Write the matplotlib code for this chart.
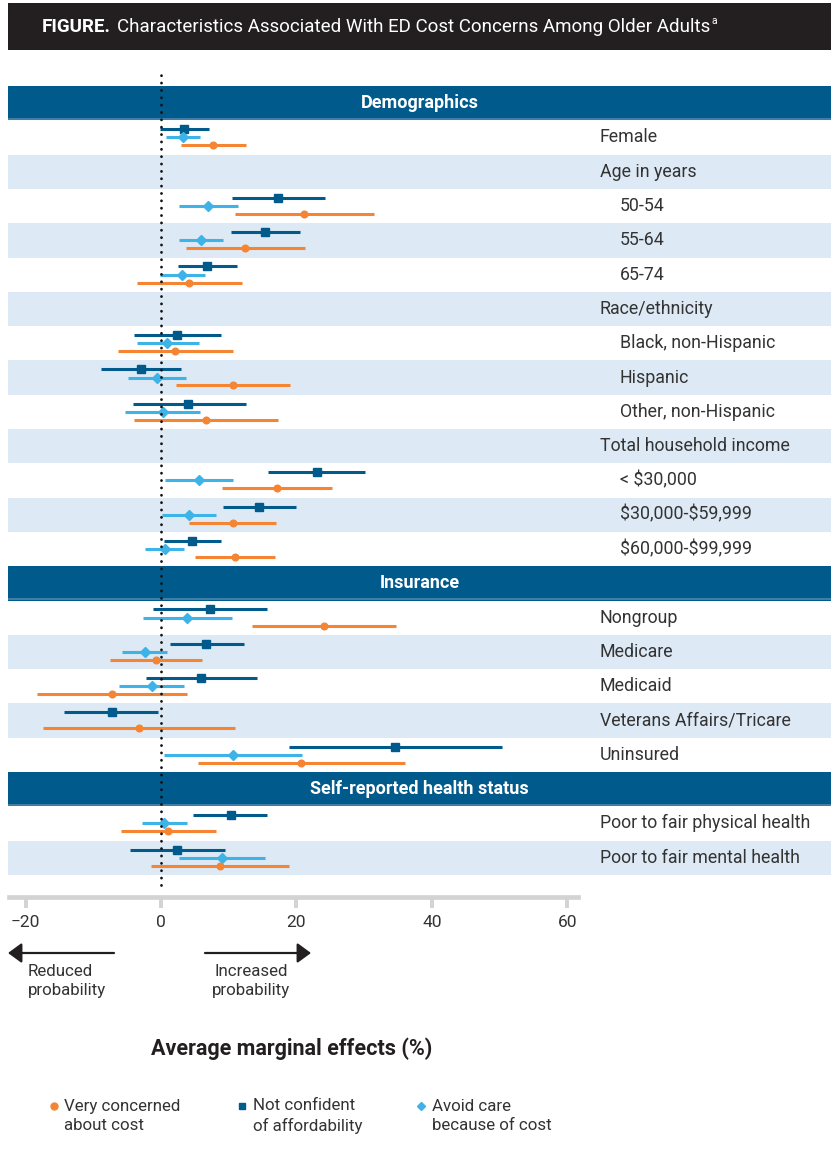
import numpy as np
import matplotlib
matplotlib.use("Agg")
import matplotlib.pyplot as plt
from matplotlib.patches import Rectangle
from matplotlib.transforms import blended_transform_factory

plt.rcParams['font.family'] = ['Roboto', 'DejaVu Sans']

NAVY = '#005a8c'
CYAN = '#3db3e7'
ORANGE = '#f58532'
SHADE = '#dde9f5'
TEXT = '#333333'
DARK = '#231f20'

# rows from top to bottom; kind: h = section header, g = group label,
# m = item, s = indented sub item
row_labels = ["Demographics", "Female", "Age in years", "50-54", "55-64", "65-74",
              "Race/ethnicity", "Black, non-Hispanic", "Hispanic", "Other, non-Hispanic",
              "Total household income", "< $30,000", "$30,000-$59,999", "$60,000-$99,999",
              "Insurance", "Nongroup", "Medicare", "Medicaid", "Veterans Affairs/Tricare",
              "Uninsured", "Self-reported health status",
              "Poor to fair physical health", "Poor to fair mental health"]
row_kinds = "hmgsssgsssgssshmmmmmhmm"

# values for the rows of kind m / s, in order (average marginal effects, %)
concern = [7.7, 21.1, 12.4, 4.2, 2.1, 10.6, 6.6, 17.1, 10.6, 10.9,
           24.1, -0.8, -7.3, -3.2, 20.7, 1.1, 8.7]
concern_lo = [2.95, 11.0, 3.7, -3.5, -6.35, 2.2, -4.0, 9.0, 4.1, 5.0,
              13.4, -7.6, -18.3, -17.4, 5.5, -5.9, -1.5]
concern_hi = [12.5, 31.4, 21.2, 12.0, 10.6, 19.0, 17.3, 25.3, 17.0, 16.9,
              34.7, 6.1, 3.8, 11.0, 36.1, 8.1, 18.9]

afford = [3.45, 17.3, 15.4, 6.85, 2.4, -2.9, 4.0, 23.1, 14.5, 4.6,
          7.2, 6.65, 5.9, -7.3, 34.6, 10.3, 2.4]
afford_lo = [-0.15, 10.5, 10.4, 2.55, -4.0, -8.8, -4.2, 15.85, 9.16, 0.5,
             -1.2, 1.4, -2.2, -14.3, 18.95, 4.7, -4.6]
afford_hi = [7.1, 24.2, 20.5, 11.2, 8.9, 2.9, 12.5, 30.2, 19.9, 8.8,
             15.6, 12.2, 14.15, -0.5, 50.4, 15.7, 9.5]

avoid = [3.2, 7.0, 5.9, 3.15, 0.93, -0.64, 0.24, 5.66, 4.1, 0.55,
         3.9, -2.4, -1.4, np.nan, 10.6, 0.43, 9.0]
avoid_lo = [0.7, 2.7, 2.7, -0.1, -3.6, -4.9, -5.3, 0.64, 0.15, -2.3,
            -2.6, -5.8, -6.2, np.nan, 0.43, -2.85, 2.7]
avoid_hi = [5.8, 11.4, 9.2, 6.45, 5.6, 3.65, 5.8, 10.7, 8.1, 3.45,
            10.5, 0.96, 3.4, np.nan, 20.8, 3.8, 15.3]

xticks = [-20, 0, 20, 40, 60]

W, H = 831, 1169
fig = plt.figure(figsize=(W / 100, H / 100), dpi=100)

# main panel, placed in pixel terms
row_h = 34.3
ax = fig.add_axes([8 / W, 1 - 897 / H, 823 / W, (897 - 60) / H])
ax.set_ylim((897 - 103.15) / row_h, (60 - 103.15) / row_h)
ax.set_xlim((8 - 161) / 6.77, (831 - 161) / 6.77)
trans = blended_transform_factory(ax.transAxes, ax.transData)

header_idx = 0
for i, (lab, kind) in enumerate(zip(row_labels, row_kinds)):
    if kind == 'h':
        header_idx = i
        ax.axhspan(i - 0.5, i + 0.5, color=NAVY, lw=0, zorder=1)
        ax.axhline(i + 0.47, color='#4f86ad', lw=1.2, zorder=1)
        ax.text(0.5, i, lab, transform=trans, ha='center', va='center',
                color='white', fontsize=13, fontweight='bold', zorder=2)
        continue
    if (i - header_idx) % 2 == 0:
        ax.axhspan(i - 0.5, i + 0.5, color=SHADE, lw=0, zorder=0)
    xpos = 0.7436 if kind == 's' else 0.7193
    ax.text(xpos, i, lab, transform=trans, ha='left', va='center',
            color=TEXT, fontsize=12.8, parse_math=False, zorder=2)

yy = np.array([i for i, k in enumerate(row_kinds) if k in 'ms'], float)
series = [
    (afford, afford_lo, afford_hi, NAVY, 's', 5.4, -0.24),
    (avoid, avoid_lo, avoid_hi, CYAN, 'D', 4.6, 0.0),
    (concern, concern_lo, concern_hi, ORANGE, 'o', 4.8, 0.23),
]
for vals, lo, hi, col, mk, ms, off in series:
    vals = np.array(vals)
    err = [vals - np.array(lo), np.array(hi) - vals]
    ax.errorbar(vals, yy + off, xerr=err, fmt=mk, color=col, ms=ms,
                elinewidth=2.2, capsize=0, zorder=3)

ax.axvline(0, ymin=(897 - 885) / 837, ymax=(897 - 68) / 837, color='#111111',
           lw=2.0, linestyle=(0, (0.05, 2.6)), dash_capstyle='round', zorder=5)

for s in ['top', 'left', 'right']:
    ax.spines[s].set_visible(False)
ax.spines['bottom'].set_bounds(-22.4, 61.6)
ax.spines['bottom'].set_color('#d3d3d3')
ax.spines['bottom'].set_linewidth(3.4)
ax.set_yticks([])
ax.set_xticks(xticks)
ax.set_xticklabels([str(t).replace('-', '\u2212') for t in xticks])
ax.tick_params(axis='x', length=8, width=2.8, color='#d3d3d3', labelsize=12.5,
               labelcolor=TEXT, pad=5)
ax.patch.set_alpha(0)

# overlay in pixel coordinates for title, arrows and legend
ov = fig.add_axes([0, 0, 1, 1], zorder=10)
ov.set_xlim(0, W)
ov.set_ylim(H, 0)
ov.axis('off')

ov.add_patch(Rectangle((8, 3), 823, 47, color=DARK, lw=0))
renderer = fig.canvas.get_renderer()
t1 = ov.text(42, 27, "FIGURE.", color='white', fontsize=13.5, fontweight='bold', va='center')
x1 = t1.get_window_extent(renderer).x1
t2 = ov.text(x1 + 6, 27, "Characteristics Associated With ED Cost Concerns Among Older Adults",
             color='white', fontsize=13.5, va='center')
x2 = t2.get_window_extent(renderer).x1
ov.text(x2 + 1, 21, "a", color='white', fontsize=7.5, va='center')

arrow_kw = dict(arrowstyle='-|>,head_length=0.75,head_width=0.55', color=DARK,
                lw=1.6, shrinkA=0, shrinkB=0, mutation_scale=11)
ov.annotate('', xy=(8, 953), xytext=(114, 953), arrowprops=arrow_kw)
ov.annotate('', xy=(311, 953), xytext=(205, 953), arrowprops=arrow_kw)
ov.text(28, 981, "Reduced\nprobability", ha='left', va='center', color=TEXT,
        fontsize=12.2, linespacing=1.35)
ov.text(251, 981, "Increased\nprobability", ha='center', va='center', color=TEXT,
        fontsize=12.2, linespacing=1.35, multialignment='center')

ov.text(292, 1049, "Average marginal effects (%)", ha='center', va='center',
        color=DARK, fontsize=15.5, fontweight='bold')

legend_items = [
    (54, 64, 'o', ORANGE, 5, "Very concerned\nabout cost"),
    (242, 253, 's', NAVY, 5, "Not confident\nof affordability"),
    (421, 432, 'D', CYAN, 4, "Avoid care\nbecause of cost"),
]
for mx, tx, mk, col, ms, lab in legend_items:
    ov.plot(mx, 1106, mk, color=col, ms=ms)
    ov.text(tx, 1116, lab, ha='left', va='center', color=TEXT, fontsize=12.2,
            linespacing=1.35)

fig.savefig('out.png', dpi=100)
